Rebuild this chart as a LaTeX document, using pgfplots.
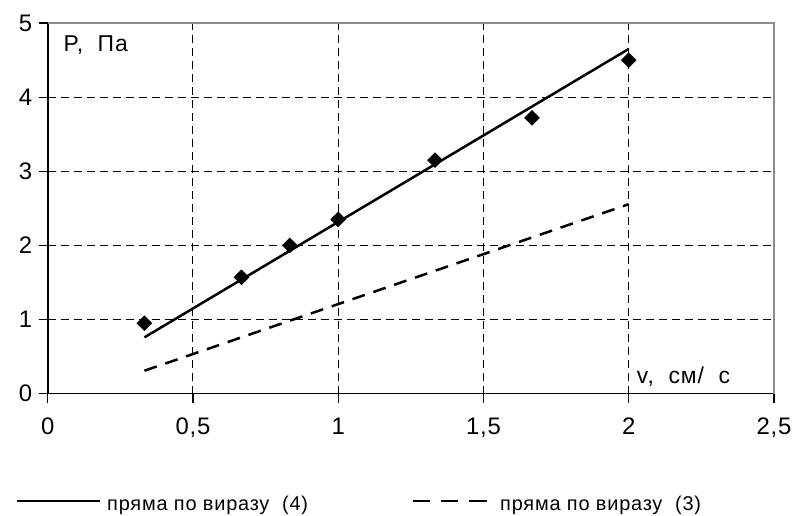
\documentclass[border=0pt]{standalone}
\usepackage{fontspec}
\setmainfont{Liberation Sans}
\usepackage{pgfplots}
\pgfplotsset{compat=1.18}
\begin{document}
\begin{tikzpicture}[x=1bp,y=1bp]
\path[use as bounding box] (0,0) rectangle (795,516);
\begin{axis}[
  at={(47.7bp,122.3bp)}, anchor=south west,
  scale only axis, width=726.3bp, height=370.7bp,
  xmin=0, xmax=2.5, ymin=0, ymax=5,
  xtick={0,0.5,1,1.5,2,2.5},
  xticklabels={0,{0,5},1,{1,5},2,{2,5}},
  ytick={0,1,2,3,4,5},
  yticklabels={0,1,2,3,4,5},
  /pgf/number format/assume math mode=true,
  axis x line*=bottom, axis y line*=left,
  axis line style={black, line width=1.6bp},
  tick align=outside, major tick length=9bp,
  tick style={black, line width=1.2bp},
  grid=major,
  major grid style={black, line width=1bp, dash pattern=on 8bp off 5bp},
  tick label style={font=\fontsize{24}{24}\selectfont\addfontfeature{LetterSpace=3}},
  x tick label style={yshift=-12bp},
  y tick label style={xshift=-3bp},
  clip=false,
]
\draw[gray!90, line width=2.2bp] (rel axis cs:0,1) -- (rel axis cs:1,1) -- (rel axis cs:1,0);
\addplot[black, line width=2.5bp] coordinates {(0.333,0.76) (2,4.65)};
\addplot[black, line width=2.5bp, dash pattern=on 13bp off 9bp] coordinates {(0.333,0.31) (2,2.556)};
\addplot[only marks, mark=square*, mark size=5.3bp, mark options={rotate=45, fill=black, draw=black}]
  coordinates {(0.333,0.95) (0.667,1.57) (0.833,2.0) (1.0,2.35) (1.333,3.15) (1.667,3.72) (2.0,4.5)};
\node[anchor=base west, inner sep=0, font=\fontsize{23}{23}\selectfont\addfontfeature{LetterSpace=4}] at (rel axis cs:0.0215,0.9226) {P,\ \ Па};
\node[anchor=base west, inner sep=0, font=\fontsize{23}{23}\selectfont\addfontfeature{LetterSpace=4}] at (rel axis cs:0.811,0.028) {v,\ \ см/\ \ с};
\end{axis}
\draw[black, line width=2.5bp] (17,15) -- (100,15);
\node[anchor=base west, inner sep=0, font=\fontsize{20}{20}\selectfont\addfontfeature{LetterSpace=4}] at (107,5) {пряма по виразу \ (4)};
\draw[black, line width=2.8bp, dash pattern=on 17.5bp off 10.7bp] (412.7,15) -- (487,15);
\node[anchor=base west, inner sep=0, font=\fontsize{20}{20}\selectfont\addfontfeature{LetterSpace=4}] at (500,5) {пряма по виразу \ (3)};
\end{tikzpicture}
\end{document}
